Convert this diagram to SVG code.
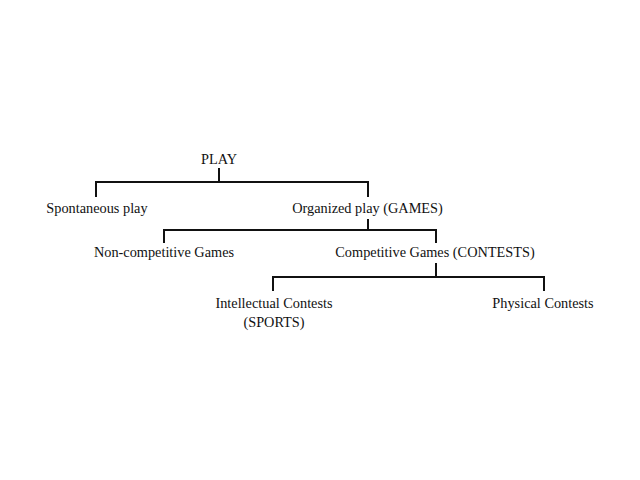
<svg xmlns="http://www.w3.org/2000/svg" width="640" height="480" viewBox="0 0 640 480">
<style>
text{font-family:"Liberation Serif","Times New Roman",serif;font-size:14.3px;fill:#111;text-anchor:middle}
.c{fill:none;stroke:#111;stroke-width:2;stroke-linecap:square}
</style>
<rect width="640" height="480" fill="#fff"/>
<g id="connectors">
<path class="c" d="M219,169V182M96,196V182H368V196"/>
<path class="c" d="M368,220V230M164,242V230H436V242"/>
<path class="c" d="M436,264V277M273,290V277H544V290"/>
</g>
<g id="play"><text x="219" y="164">PLAY</text></g>
<g id="spontaneous"><text x="97" y="213">Spontaneous play</text></g>
<g id="organized"><text x="367.5" y="213">Organized play (GAMES)</text></g>
<g id="noncompetitive"><text x="164" y="257">Non-competitive Games</text></g>
<g id="competitive"><text x="435" y="257">Competitive Games (CONTESTS)</text></g>
<g id="intellectual"><text x="274" y="308">Intellectual Contests</text><text x="274" y="327">(SPORTS)</text></g>
<g id="physical"><text x="543" y="308">Physical Contests</text></g>
</svg>
